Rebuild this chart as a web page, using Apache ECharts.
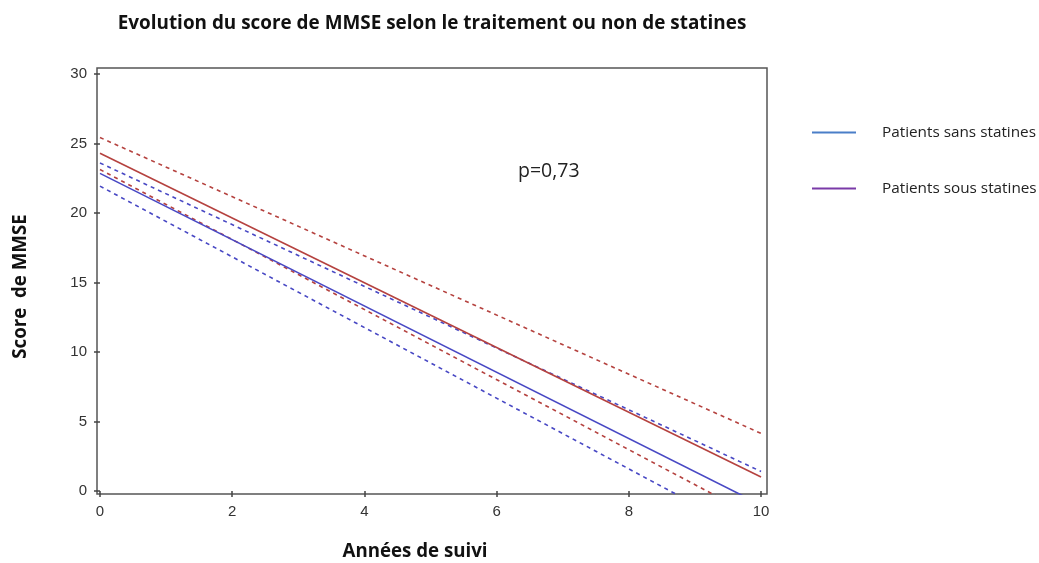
<!DOCTYPE html>
<html>
<head>
<meta charset="utf-8">
<script src="https://cdn.jsdelivr.net/npm/echarts@6/dist/echarts.min.js"></script>
<style>
html,body{margin:0;padding:0;background:#fff;}
#chart{width:1039px;height:563px;}
</style>
</head>
<body>
<div id="chart"></div>
<script>
// Data (years of follow-up, MMSE score at the endpoints of each fitted line)
const years = [0, 10];
const sansStatines = [22.85, -1.0];
const sansStatinesUpper = [23.6, 1.4];
const sansStatinesLower = [21.93, -3.5];
const sousStatines = [24.3, 1.0];
const sousStatinesUpper = [25.43, 4.14];
const sousStatinesLower = [23.13, -2.07];
const xTicks = [0, 2, 4, 6, 8, 10];
const yTicks = [0, 5, 10, 15, 20, 25, 30];
const legendNames = ['Patients sans statines', 'Patients sous statines'];

const pairs = arr => years.map((x, i) => [x, arr[i]]);
const RED = '#b5423f';
const BLUE = '#4848c4';
const font = '"Liberation Sans", Arial, sans-serif';
const sans = '"Open Sans", sans-serif';

function lineSeries(name, data, color, dashed) {
  return {
    name: name,
    type: 'line',
    data: pairs(data),
    showSymbol: false,
    symbol: 'none',
    clip: true,
    silent: true,
    lineStyle: { color: color, width: 1.6, type: dashed ? [4, 4] : 'solid' },
    itemStyle: { color: color }
  };
}

const chart = echarts.init(document.getElementById('chart'), null, { renderer: 'canvas' });
chart.setOption({
  animation: false,
  backgroundColor: '#fff',
  title: {
    text: 'Evolution du score de MMSE selon le traitement ou non de statines',
    left: 427, top: 9, textAlign: 'center',
    textStyle: { fontFamily: sans, fontWeight: 'bold', fontSize: 18.9, color: '#111' }
  },
  legend: {
    orient: 'vertical',
    left: 812, top: 125,
    padding: 0,
    itemGap: 41,
    itemWidth: 44, itemHeight: 2,
    icon: 'rect',
    textStyle: { fontFamily: sans, fontSize: 15.3, color: '#222', padding: [0, 0, 0, 21] },
    data: [
      { name: legendNames[0], itemStyle: { color: '#4a7ec8' } },
      { name: legendNames[1], itemStyle: { color: '#7a3aa8' } }
    ]
  },
  grid: {
    left: 97, right: 272, top: 68, bottom: 69,
    outerBoundsMode: 'none', containLabel: false,
    show: true, borderColor: '#555', borderWidth: 1.5, backgroundColor: 'transparent'
  },
  xAxis: {
    type: 'value',
    min: -0.045, max: 10.09,
    name: 'Années de suivi',
    nameLocation: 'middle', nameGap: 48.5,
    nameTextStyle: { fontFamily: sans, fontWeight: 'bold', fontSize: 18.7, color: '#111', padding: [0, 34, 0, 0] },
    axisLine: { show: false },
    splitLine: { show: false },
    axisTick: { show: true, customValues: xTicks, length: 6, lineStyle: { color: '#444', width: 1.5 } },
    axisLabel: { customValues: xTicks, fontFamily: font, fontSize: 15, color: '#333', margin: 10 }
  },
  yAxis: {
    type: 'value',
    min: -0.22, max: 30.43,
    name: 'Score  de MMSE',
    nameLocation: 'middle', nameGap: 66.5, nameRotate: 90,
    nameTextStyle: { fontFamily: sans, fontWeight: 'bold', fontSize: 18.7, color: '#111', padding: [0, 11, 0, 0] },
    axisLine: { show: false },
    splitLine: { show: false },
    axisTick: { show: true, customValues: yTicks, length: 6, lineStyle: { color: '#444', width: 1.5 } },
    axisLabel: { customValues: yTicks, fontFamily: font, fontSize: 15, color: '#333', margin: 10 }
  },
  graphic: [{
    type: 'text', left: 518, top: 161,
    style: { text: 'p=0,73', fontFamily: sans, fontSize: 19.5, fill: '#222' }
  }],
  series: [
    lineSeries('Borne sup. sous statines', sousStatinesUpper, RED, true),
    lineSeries('Borne inf. sous statines', sousStatinesLower, RED, true),
    lineSeries('Borne sup. sans statines', sansStatinesUpper, BLUE, true),
    lineSeries('Borne inf. sans statines', sansStatinesLower, BLUE, true),
    lineSeries(legendNames[1], sousStatines, RED, false),
    lineSeries(legendNames[0], sansStatines, BLUE, false)
  ]
});
</script>
</body>
</html>
